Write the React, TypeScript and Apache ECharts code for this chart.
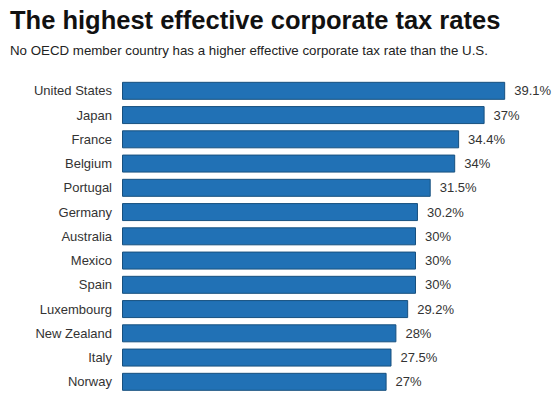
import React, { useEffect, useRef } from "react";
import * as echarts from "echarts";

const countries = [
  "United States", "Japan", "France", "Belgium", "Portugal", "Germany", "Australia",
  "Mexico", "Spain", "Luxembourg", "New Zealand", "Italy", "Norway",
];
const rates = [39.1, 37, 34.4, 34, 31.5, 30.2, 30, 30, 30, 29.2, 28, 27.5, 27];
const titleText = "The highest effective corporate tax rates";
const subtitleText = "No OECD member country has a higher effective corporate tax rate than the U.S.";

export default function App() {
  const ref = useRef<HTMLDivElement>(null);
  useEffect(() => {
    const chart = echarts.init(ref.current!, null, { renderer: "svg" });
    chart.setOption({
      animation: false,
      backgroundColor: "#fff",
      graphic: [
        {
          type: "text", left: 10, top: 7,
          style: { text: titleText, fontFamily: "Liberation Sans, Arial", fontWeight: "bold", fontSize: 25.5, fill: "#111" },
        },
        {
          type: "text", left: 10, top: 44,
          style: { text: subtitleText, fontFamily: "Liberation Sans, Arial", fontSize: 13.3, fill: "#222" },
        },
      ],
      grid: { left: 122, width: 392, top: 78.7, height: 315.25, containLabel: false },
      xAxis: { type: "value", min: 0, max: 40, show: false },
      yAxis: {
        type: "category", data: countries, inverse: true,
        axisLine: { show: false }, axisTick: { show: false },
        axisLabel: { margin: 10, fontFamily: "Liberation Sans, Arial", fontSize: 13, color: "#333" },
      },
      series: [
        {
          type: "bar", data: rates, barWidth: 18,
          itemStyle: { color: "#2171b5", borderColor: "#17507f", borderWidth: 1 },
          label: {
            show: true, position: "right", distance: 9,
            formatter: (p: any) => p.value + "%",
            fontFamily: "Liberation Sans, Arial", fontSize: 13, color: "#333",
          },
        },
      ],
    });
    return () => chart.dispose();
  }, []);
  return <div ref={ref} style={{ position: "absolute", left: 0, top: 0, width: 556, height: 395 }} />;
}
